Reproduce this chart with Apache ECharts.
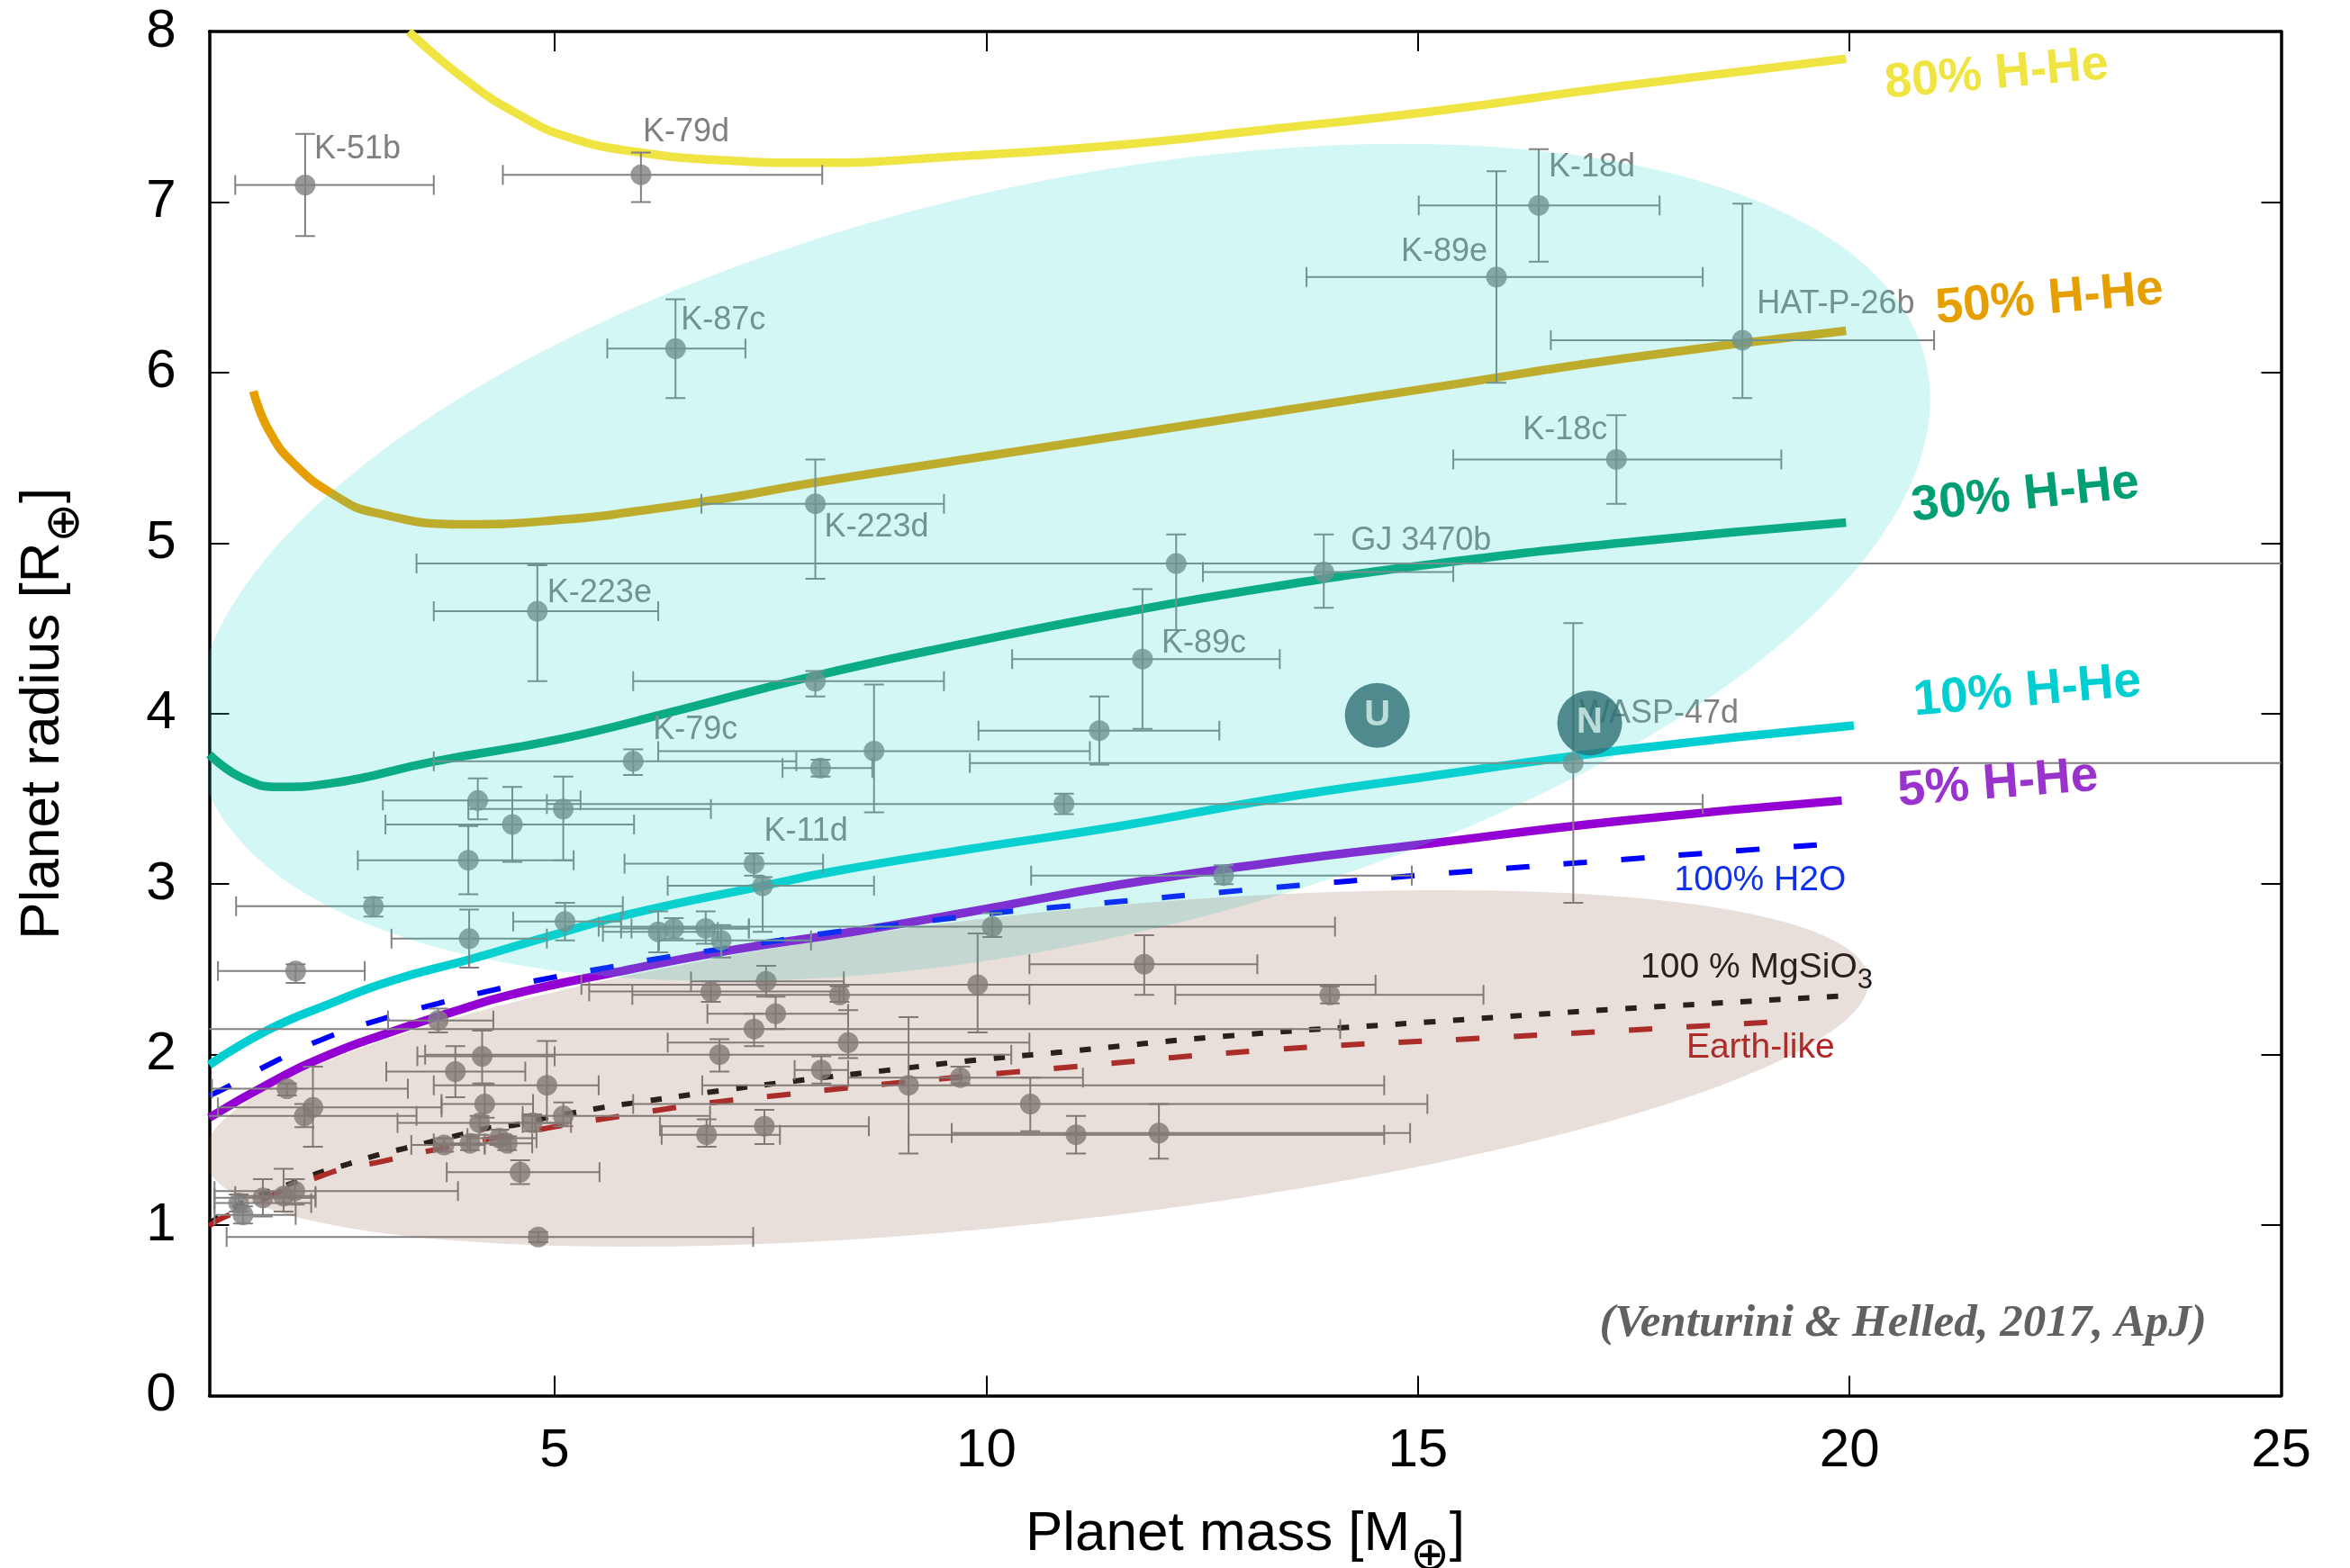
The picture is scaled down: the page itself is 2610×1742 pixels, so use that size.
<!DOCTYPE html>
<html>
<head>
<meta charset="utf-8">
<title>Mass-radius diagram of small exoplanets</title>
<script src="https://cdn.jsdelivr.net/npm/echarts@6/dist/echarts.min.js"></script>
<style>
  html, body { margin: 0; padding: 0; background: #ffffff; }
  #chart { width: 2610px; height: 1742px; }
</style>
</head>
<body>
<div id="chart"></div>
<script>
// ---------------------------------------------------------------------------
// Observed planets: mass [M_earth], radius [R_earth] and error bounds
// ---------------------------------------------------------------------------
const planetNames = [
  'K-51b', 'K-79d', 'K-87c', 'K-18d', 'K-89e', 'HAT-P-26b', 'K-18c', 'K-223d', 'GJ 3470b', '',
  'K-223e', 'K-89c', '', 'K-79c', '', '', '', '', 'WASP-47d', 'K-11d',
  '', '', '', '', '', '', '', '', '', '',
  '', '', '', '', '', '', '', '', '', '',
  '', '', '', '', '', '', '', '', '', '',
  '', '', '', '', '', '', '', '', '', '',
  '', '', '', '', '', '', '', '', '', '',
  '', '', '', '', ''
];
const planetMass = [
  2.11, 6.00, 6.40, 16.40, 15.91, 18.76, 17.30, 8.02, 13.91, 12.20,
  4.80, 11.81, 8.02, 5.91, 8.70, 8.08, 11.31, 10.90, 16.80, 7.31,
  7.41, 4.11, 4.51, 5.10, 4.00, 2.90, 5.12, 4.01, 6.20, 6.38,
  6.75, 6.93, 10.07, 12.75, 11.83, 9.90, 13.98, 7.45, 6.81, 8.30,
  7.56, 7.31, 6.91, 8.40, 8.09, 9.10, 9.70, 10.51, 6.76, 7.43,
  11.04, 12.00, 2.00, 3.65, 1.90, 2.20, 2.10, 3.85, 4.16, 4.91,
  4.19, 4.13, 3.72, 4.02, 4.36, 4.45, 4.74, 5.10, 4.60, 4.81,
  1.34, 1.39, 1.62, 1.86, 1.99
];
const planetRadius = [
  7.10, 7.16, 6.14, 6.98, 6.56, 6.19, 5.49, 5.23, 4.83, 4.88,
  4.60, 4.32, 4.19, 3.72, 3.78, 3.68, 3.90, 3.47, 3.71, 3.12,
  2.99, 3.49, 3.35, 3.44, 3.14, 2.87, 2.78, 2.68, 2.72, 2.74,
  2.74, 2.67, 2.75, 3.05, 2.53, 2.41, 2.35, 2.43, 2.37, 2.35,
  2.24, 2.15, 2.00, 2.07, 1.91, 1.82, 1.865, 1.71, 1.53, 1.58,
  1.53, 1.54, 2.49, 2.20, 1.80, 1.69, 1.64, 1.90, 1.99, 1.82,
  1.71, 1.60, 1.47, 1.48, 1.51, 1.48, 1.60, 1.64, 1.31, 0.93,
  1.13, 1.06, 1.16, 1.17, 1.20
];
const massLow = [
  1.30, 4.40, 5.61, 15.01, 13.71, 16.54, 15.41, 6.70, 12.51, 3.40,
  3.60, 10.30, 5.91, 3.60, 6.20, 7.64, 9.91, 4.91, 9.81, 5.81,
  6.31, 3.01, 3.04, 4.00, 2.72, 1.31, 4.52, 3.11, 5.56, 5.89,
  5.77, 6.21, 5.51, 10.52, 10.50, 5.31, 12.19, 6.58, 5.40, 5.90,
  6.77, 0.50, 3.50, 6.31, 7.78, 6.71, 8.40, 5.91, 6.24, 6.22,
  9.10, 9.60, 1.10, 3.07, 1.03, 1.10, 0.90, 3.05, 3.41, 3.60,
  3.69, 3.18, 3.34, 3.60, 3.99, 4.19, 4.63, 4.63, 3.75, 1.20,
  1.06, 1.06, 1.06, 1.30, 1.06
];
const massHigh = [
  3.60, 8.10, 7.21, 17.80, 18.30, 20.98, 19.21, 9.51, 15.41, 26.0,
  6.20, 13.40, 9.51, 7.80, 11.20, 8.68, 12.70, 18.30, 26.0, 8.11,
  8.70, 5.30, 5.92, 6.81, 5.22, 5.79, 5.77, 4.91, 6.89, 7.25,
  7.25, 7.97, 14.04, 14.93, 13.14, 14.51, 15.76, 8.35, 8.35, 10.50,
  8.40, 14.10, 10.29, 10.50, 8.40, 14.61, 11.12, 15.11, 7.61, 8.64,
  14.61, 14.91, 2.80, 4.29, 3.30, 3.69, 3.40, 4.66, 5.00, 5.51,
  4.75, 4.78, 4.19, 4.49, 4.79, 4.74, 5.19, 6.80, 5.52, 7.30,
  2.18, 2.00, 2.23, 2.23, 3.88
];
const radiusLow = [
  6.80, 7.00, 5.85, 6.65, 5.94, 5.85, 5.23, 4.79, 4.62, 4.49,
  4.19, 3.91, 4.10, 3.64, 3.42, 3.63, 3.70, 3.41, 2.89, 3.05,
  2.72, 3.38, 3.13, 3.14, 2.94, 2.81, 2.67, 2.51, 2.60, 2.68,
  2.65, 2.57, 2.69, 3.00, 2.35, 2.13, 2.30, 2.34, 2.31, 2.31,
  2.15, 2.05, 1.90, 1.98, 1.83, 1.42, 1.83, 1.55, 1.46, 1.475,
  1.42, 1.39, 2.42, 2.13, 1.76, 1.46, 1.575, 1.75, 1.83, 1.60,
  1.63, 1.53, 1.43, 1.44, 1.47, 1.44, 1.55, 1.58, 1.24, 0.90,
  1.08, 1.01, 1.05, 1.08, 1.12
];
const radiusHigh = [
  7.40, 7.29, 6.43, 7.31, 7.18, 6.99, 5.75, 5.49, 5.05, 5.05,
  4.87, 4.73, 4.25, 3.79, 4.17, 3.73, 4.10, 3.53, 4.53, 3.18,
  3.04, 3.62, 3.57, 3.63, 3.34, 2.92, 2.89, 2.85, 2.84, 2.80,
  2.84, 2.76, 2.83, 3.11, 2.70, 2.71, 2.40, 2.52, 2.43, 2.40,
  2.34, 2.24, 2.09, 2.26, 1.99, 2.22, 1.93, 1.865, 1.62, 1.676,
  1.64, 1.71, 2.53, 2.27, 1.83, 1.93, 1.71, 2.05, 2.14, 2.08,
  1.83, 1.64, 1.51, 1.52, 1.56, 1.52, 1.65, 1.72, 1.38, 0.96,
  1.18, 1.11, 1.27, 1.33, 1.27
];

// Uranus and Neptune
const giantNames = ['U', 'N'];
const giantMass = [14.53, 16.99];
const giantRadius = [3.99, 3.945];

// ---------------------------------------------------------------------------
// Model mass-radius relations, [mass, radius] pairs
// ---------------------------------------------------------------------------
const hhe80 = [[3.31,8.00],[3.96,7.72],[4.56,7.52],[5.16,7.38],[6.00,7.29],[6.95,7.245],[7.96,7.23],[9.74,7.27],[11.55,7.335],[13.34,7.43],[15.15,7.53],[17.35,7.68],[19.96,7.84]];
const hhe50 = [[1.51,5.89],[1.69,5.66],[1.99,5.46],[2.47,5.275],[2.90,5.18],[3.96,5.11],[5.16,5.14],[6.00,5.19],[6.95,5.26],[7.96,5.35],[9.74,5.49],[11.55,5.63],[13.34,5.77],[15.15,5.91],[17.35,6.08],[19.96,6.245]];
const hhe30 = [[1.0,3.76],[1.39,3.62],[1.83,3.57],[2.40,3.59],[3.61,3.72],[5.06,3.85],[6.36,4.01],[7.96,4.215],[9.74,4.41],[11.55,4.59],[13.34,4.745],[15.15,4.875],[17.35,5.0],[19.96,5.12]];
const hhe10 = [[1.0,1.94],[1.69,2.147],[2.39,2.297],[3.09,2.43],[4.03,2.56],[4.91,2.69],[5.80,2.816],[7.42,2.99],[8.30,3.08],[9.74,3.2],[11.55,3.34],[13.34,3.50],[15.15,3.633],[17.35,3.785],[20.05,3.93]];
const hhe5 = [[1.0,1.63],[1.69,1.83],[2.39,2.0],[3.09,2.13],[3.78,2.244],[4.48,2.35],[5.68,2.48],[7.06,2.614],[8.45,2.72],[9.84,2.84],[11.55,2.997],[13.34,3.128],[15.15,3.239],[17.35,3.371],[19.91,3.49]];
const water = [[1.0,1.76],[1.17,1.80],[1.76,1.96],[2.36,2.10],[3.01,2.21],[3.65,2.30],[4.30,2.38],[4.95,2.45],[5.61,2.51],[6.28,2.57],[6.94,2.62],[7.60,2.67],[8.26,2.72],[8.93,2.76],[9.60,2.80],[10.27,2.84],[10.93,2.87],[13.34,2.98],[15.15,3.057],[16.94,3.128],[19.76,3.235]];
const rock = [[1.0,1.01],[1.35,1.12],[1.66,1.19],[1.98,1.25],[2.29,1.31],[2.62,1.36],[2.94,1.41],[3.26,1.45],[3.58,1.49],[3.91,1.53],[4.24,1.57],[4.57,1.59],[4.90,1.63],[5.23,1.66],[5.56,1.69],[5.89,1.715],[6.88,1.786],[7.88,1.851],[8.87,1.909],[9.88,1.968],[10.87,2.015],[12.75,2.107],[15.15,2.192],[17.35,2.268],[19.94,2.344]];
const earthLike = [[1.0,0.995],[1.12,1.035],[2.36,1.30],[3.02,1.376],[3.66,1.447],[4.98,1.575],[5.65,1.63],[6.31,1.683],[6.97,1.728],[7.64,1.763],[8.30,1.80],[8.97,1.834],[9.64,1.866],[10.31,1.897],[10.97,1.927],[13.34,2.03],[15.74,2.096],[19.08,2.19]];

// Axis ticks
const massTicks = [5, 10, 15, 20, 25];
const radiusTicks = [0, 1, 2, 3, 4, 5, 6, 7, 8];

// ---------------------------------------------------------------------------
// Shaded population regions: centre and two conjugate half-axes (data units)
// ---------------------------------------------------------------------------
const regions = [
  { center: [10.88, 4.886], u: [10.007, 1.174], v: [0.987, -2.156], fill: 'rgba(50, 218, 205, 0.22)' },
  { center: [10.58, 1.919], u: [9.641, 0.5285], v: [0.1929, -0.9018], fill: 'rgba(140, 90, 70, 0.20)' }
];

// Pixel offsets of the planet names from their markers (left edge / text middle)
const nameOffsets = {
  'K-51b': [10, -39], 'K-79d': [2, -47], 'K-87c': [6, -31], 'K-18d': [11, -42],
  'K-89e': [-10, -28, 'right'], 'HAT-P-26b': [16, -40], 'K-18c': [-10, -32, 'right'],
  'K-223d': [10, 26], 'GJ 3470b': [30, -34], 'K-223e': [11, -20], 'K-89c': [21, -17],
  'K-79c': [22, -35], 'K-11d': [11, -35], 'WASP-47d': [7, -55]
};

// Free-standing text: curve names, compositions, citation
const annotations = [
  { text: '80% H-He', at: [20.41, 7.69], color: '#F0E442', size: 54, weight: 'bold', rot: 5 },
  { text: '50% H-He', at: [21.00, 6.37], color: '#E69F00', size: 55, weight: 'bold', rot: 5 },
  { text: '30% H-He', at: [20.72, 5.21], color: '#009E73', size: 55, weight: 'bold', rot: 6 },
  { text: '10% H-He', at: [20.74, 4.07], color: '#00CED1', size: 55, weight: 'bold', rot: 5 },
  { text: '5% H-He', at: [20.56, 3.54], color: '#9933CC', size: 55, weight: 'bold', rot: 4.5 },
  { text: '100% H2O', at: [17.97, 3.02], color: '#1030F0', size: 39 },
  { text: '100 % MgSiO{s|3}', at: [17.58, 2.51], color: '#111111', size: 39, lineHeight: 60,
    rich: { s: { fontSize: 31, lineHeight: 31, verticalAlign: 'bottom', fontFamily: 'Liberation Sans', fill: '#111111' } } },
  { text: 'Earth-like', at: [18.11, 2.037], color: '#B22222', size: 39 },
  { text: '(Venturini & Helled, 2017, ApJ)', at: [20.62, 0.42], color: '#616161', size: 51,
    family: 'Liberation Serif', fontStyle: 'italic', weight: 'bold', align: 'center' }
];

const FONT = 'Liberation Sans';
const ERR_COLOR = '#808080';
const CAP = 22;

function lineSeries(name, data, color, width, type) {
  return {
    type: 'line', name: name, data: data, showSymbol: false, symbol: 'none',
    smooth: 0.5, clip: true, silent: true, z: 2,
    lineStyle: { color: color, width: width, type: type || 'solid', cap: 'butt' }
  };
}

function gridClip(params) {
  const cs = params.coordSys;
  return { type: 'rect', shape: { x: cs.x, y: cs.y, width: cs.width, height: cs.height } };
}

function renderErrorBar(params, api) {
  const m = api.value(0), r = api.value(1);
  const pL = api.coord([api.value(2), r]);
  const pR = api.coord([api.value(3), r]);
  const pB = api.coord([m, api.value(4)]);
  const pT = api.coord([m, api.value(5)]);
  const c = CAP / 2;
  const style = { stroke: ERR_COLOR, lineWidth: 2, fill: null };
  const seg = (x1, y1, x2, y2) => ({ type: 'line', shape: { x1, y1, x2, y2 }, style: style });
  return {
    type: 'group', clipPath: gridClip(params),
    children: [
      seg(pL[0], pL[1], pR[0], pR[1]),
      seg(pL[0], pL[1] - c, pL[0], pL[1] + c),
      seg(pR[0], pR[1] - c, pR[0], pR[1] + c),
      seg(pB[0], pB[1], pT[0], pT[1]),
      seg(pB[0] - c, pB[1], pB[0] + c, pB[1]),
      seg(pT[0] - c, pT[1], pT[0] + c, pT[1])
    ]
  };
}

function renderRegion(params, api) {
  const reg = regions[params.dataIndex];
  const pts = [];
  const n = 240;
  for (let k = 0; k < n; k++) {
    const t = 2 * Math.PI * k / n;
    const ct = Math.cos(t), st = Math.sin(t);
    pts.push(api.coord([
      reg.center[0] + ct * reg.u[0] + st * reg.v[0],
      reg.center[1] + ct * reg.u[1] + st * reg.v[1]
    ]));
  }
  return {
    type: 'group', clipPath: gridClip(params),
    children: [{ type: 'polygon', shape: { points: pts }, style: { fill: reg.fill, stroke: null } }]
  };
}

const namedIdx = planetNames.map((n, i) => (n ? i : -1)).filter(i => i >= 0);

function renderName(params, api) {
  const i = namedIdx[params.dataIndex];
  const name = planetNames[i];
  const off = nameOffsets[name] || [10, -30];
  const p = api.coord([planetMass[i], planetRadius[i]]);
  return {
    type: 'text', x: p[0] + off[0], y: p[1] + off[1],
    style: { text: name, fill: '#808080', fontSize: 36, fontFamily: FONT,
             align: off[2] || 'left', verticalAlign: 'middle' }
  };
}

function renderAnnotation(params, api) {
  const a = annotations[params.dataIndex];
  const p = api.coord(a.at);
  const style = {
    text: a.text, fill: a.color, fontSize: a.size, fontFamily: a.family || FONT,
    fontWeight: a.weight || 'normal', fontStyle: a.fontStyle || 'normal',
    align: a.align || 'left', verticalAlign: 'middle'
  };
  if (a.rich) { style.rich = a.rich; style.lineHeight = a.lineHeight; }
  return { type: 'text', x: p[0], y: p[1], rotation: (a.rot || 0) * Math.PI / 180, style: style };
}

const axisLine = { show: true, onZero: false, lineStyle: { color: '#000', width: 3.5 } };
const tickStyle = { color: '#000', width: 2 };
const nameStyle = {
  fontSize: 62, fontFamily: FONT, color: '#000', lineHeight: 103,
  rich: { o: { fontSize: 52, fontFamily: 'DejaVu Sans', lineHeight: 52, verticalAlign: 'bottom', color: '#000' } }
};

const option = {
  animation: false,
  backgroundColor: '#ffffff',
  grid: { left: 232.5, right: 76.5, top: 35, bottom: 191.5, containLabel: false, outerBoundsMode: 'none' },
  xAxis: [
    {
      type: 'value', min: 1, max: 25, position: 'bottom',
      name: 'Planet mass [M{o|⊕}]', nameLocation: 'middle', nameGap: 103, nameTextStyle: nameStyle,
      axisLine: axisLine,
      axisTick: { show: true, inside: true, length: 22, customValues: massTicks, lineStyle: tickStyle },
      axisLabel: { customValues: massTicks, margin: 32, fontSize: 60, fontFamily: FONT, color: '#000' },
      splitLine: { show: false }
    },
    {
      type: 'value', min: 1, max: 25, position: 'top',
      axisLine: axisLine,
      axisTick: { show: true, inside: true, length: 22, customValues: massTicks, lineStyle: tickStyle },
      axisLabel: { show: false }, splitLine: { show: false }
    }
  ],
  yAxis: [
    {
      type: 'value', min: radiusTicks[0], max: radiusTicks[radiusTicks.length - 1], interval: 1, position: 'left',
      name: 'Planet radius [R{o|⊕}]', nameLocation: 'middle', nameGap: 133, nameTextStyle: nameStyle,
      axisLine: axisLine,
      axisTick: { show: true, inside: true, length: 22, lineStyle: tickStyle },
      axisLabel: { margin: 37, fontSize: 60, fontFamily: FONT, color: '#000' },
      splitLine: { show: false }
    },
    {
      type: 'value', min: radiusTicks[0], max: radiusTicks[radiusTicks.length - 1], interval: 1, position: 'right',
      axisLine: axisLine,
      axisTick: { show: true, inside: true, length: 22, lineStyle: tickStyle },
      axisLabel: { show: false }, splitLine: { show: false }
    }
  ],
  series: [
    lineSeries('80% H-He', hhe80, '#F0E442', 9.5),
    lineSeries('50% H-He', hhe50, '#E69F00', 9.5),
    lineSeries('30% H-He', hhe30, '#009E73', 9.5),
    lineSeries('10% H-He', hhe10, '#00CED1', 9.5),
    lineSeries('5% H-He', hhe5, '#9400D3', 9.5),
    lineSeries('100% H2O', water, '#0000FF', 6, [26, 38]),
    lineSeries('100% MgSiO3', rock, '#111111', 6, [12.5, 19.5]),
    lineSeries('Earth-like', earthLike, '#B22222', 6, [26, 38]),
    {
      type: 'custom', name: 'errors', coordinateSystem: 'cartesian2d', z: 3, silent: true,
      data: planetMass.map((m, i) => [m, planetRadius[i], massLow[i], massHigh[i], radiusLow[i], radiusHigh[i]]),
      encode: { x: 0, y: 1 }, renderItem: renderErrorBar
    },
    {
      type: 'scatter', name: 'planets', z: 4, silent: true, symbol: 'circle', symbolSize: 23,
      itemStyle: { color: '#808080' },
      data: planetMass.map((m, i) => [m, planetRadius[i]])
    },
    {
      type: 'custom', name: 'planet names', coordinateSystem: 'cartesian2d', z: 4, silent: true,
      data: namedIdx.map(i => [planetMass[i], planetRadius[i]]),
      encode: { x: 0, y: 1 }, renderItem: renderName
    },
    {
      type: 'custom', name: 'annotations', coordinateSystem: 'cartesian2d', z: 4, silent: true,
      data: annotations.map(a => a.at),
      encode: { x: 0, y: 1 }, renderItem: renderAnnotation
    },
    {
      type: 'custom', name: 'regions', coordinateSystem: 'cartesian2d', z: 6, silent: true,
      data: regions.map(r => r.center),
      encode: { x: 0, y: 1 }, renderItem: renderRegion
    },
    {
      type: 'scatter', name: 'ice giants', z: 7, silent: true, symbol: 'circle', symbolSize: 72,
      itemStyle: { color: '#2E6F74' },
      label: {
        show: true, position: 'inside', color: '#D4F1EE', fontSize: 40, fontWeight: 'bold', fontFamily: FONT,
        formatter: p => giantNames[p.dataIndex]
      },
      data: giantMass.map((m, i) => [m, giantRadius[i]])
    }
  ]
};

const chart = echarts.init(document.getElementById('chart'), null, { renderer: 'canvas' });
chart.setOption(option);
</script>
</body>
</html>
